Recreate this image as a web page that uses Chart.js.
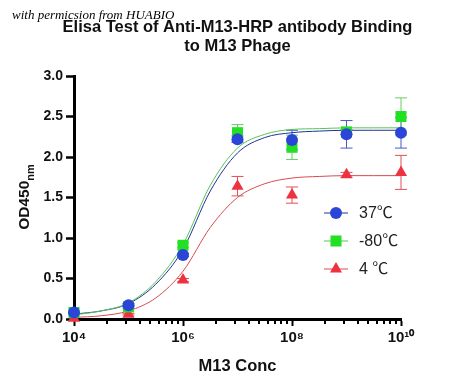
<!DOCTYPE html>
<html><head><meta charset="utf-8">
<script src="https://cdn.jsdelivr.net/npm/chart.js@4.4.1/dist/chart.umd.min.js"></script>
<style>html,body{margin:0;padding:0;background:#fff;}</style>
</head><body>
<canvas id="c" width="450" height="391" style="display:block;width:450px;height:391px"></canvas>
<script>
// ---- data ----
const concentrations = [1e4, 1e5, 1e6, 1e7, 1e8, 1e9, 1e10];
const od37   = [0.08, 0.17, 0.79, 2.22, 2.21, 2.28, 2.30];
const sd37   = [0.01, 0.02, 0.02, 0.04, 0.12, 0.17, 0.19];
const odM80  = [0.08, 0.15, 0.91, 2.30, 2.12, 2.31, 2.50];
const sdM80  = [0.01, 0.02, 0.03, 0.10, 0.15, 0.03, 0.23];
const od4    = [0.01, 0.06, 0.48, 1.64, 1.53, 1.78, 1.81];
const sd4    = [0.00, 0.01, 0.02, 0.12, 0.10, 0.03, 0.21];
// fitted curves, read at half-decade steps
const curveExponents = [4, 4.5, 5, 5.5, 6, 6.5, 7, 7.5, 8, 8.5, 9, 9.5, 10];
const fit37  = [0.06, 0.10, 0.19, 0.43, 0.86, 1.58, 2.05, 2.24, 2.30, 2.32, 2.33, 2.33, 2.33];
const fitM80 = [0.05, 0.10, 0.20, 0.46, 0.92, 1.65, 2.11, 2.28, 2.34, 2.35, 2.36, 2.36, 2.36];
const fit4   = [0.02, 0.04, 0.10, 0.26, 0.59, 1.13, 1.50, 1.67, 1.74, 1.76, 1.77, 1.77, 1.77];
const seriesNames = ['37℃', '-80℃', '4 ℃'];
const majorTicks = [1e4, 1e6, 1e8, 1e10];
const majorTickLabels = ['10⁴', '10⁶', '10⁸', '10¹⁰'];
const yTicks = [0, 0.5, 1.0, 1.5, 2.0, 2.5, 3.0];

const SANS = '"Liberation Sans", Arial, "Noto Sans CJK SC", sans-serif';
const colors = {
  blue:  {pt: '#2b46d6', line: '#24309a', err: '#4a58c8'},
  green: {pt: '#22e022', line: '#55c455', err: '#66cc66'},
  red:   {pt: '#ee3340', line: '#d84a50', err: '#e05058'}
};

const curveConc = curveExponents.map(e => Math.pow(10, e));
const toXY = (xs, ys) => xs.map((x, i) => ({x: x, y: ys[i]}));

// minor ticks (Prism style: j^2 steps within each 2-decade interval)
const allXTicks = [];
majorTicks.forEach((m, k) => {
  allXTicks.push(m);
  if (k < majorTicks.length - 1) for (let j = 2; j <= 9; j++) allXTicks.push(m * j * j);
});

function curveDs(label, ys, col, order) {
  return {label, data: toXY(curveConc, ys), borderColor: col.line, borderWidth: 1,
    pointRadius: 0, cubicInterpolationMode: 'monotone', fill: false, order, clip: false};
}
function pointDs(label, ys, sds, col, style, r, order) {
  return {label, data: toXY(concentrations, ys), sd: sds, errColor: col.err, showLine: false,
    pointStyle: style, pointRadius: r, pointHoverRadius: r, pointBackgroundColor: col.pt,
    pointBorderColor: col.pt, pointBorderWidth: 0, borderColor: col.line, order, clip: false};
}

const datasets = [
  pointDs(seriesNames[0], od37, sd37, colors.blue, 'circle', 6, 0),
  pointDs(seriesNames[1], odM80, sdM80, colors.green, 'rect', 7.8, 1),
  pointDs(seriesNames[2], od4, sd4, colors.red, 'triangle', 7, 2),
  curveDs('fit 37', fit37, colors.blue, 4),
  curveDs('fit -80', fitM80, colors.green, 3),
  curveDs('fit 4', fit4, colors.red, 5)
];

const errorBars = {
  id: 'errorBars',
  beforeDatasetsDraw(chart) {
    const ctx = chart.ctx, ys = chart.scales.y;
    chart.data.datasets.forEach((ds, i) => {
      if (!ds.sd) return;
      const meta = chart.getDatasetMeta(i);
      ctx.save();
      ctx.strokeStyle = ds.errColor; ctx.lineWidth = 1;
      meta.data.forEach((el, j) => {
        const v = ds.data[j].y, s = ds.sd[j];
        if (!s) return;
        const top = ys.getPixelForValue(v + s), bot = ys.getPixelForValue(v - s);
        ctx.beginPath();
        ctx.moveTo(el.x, top); ctx.lineTo(el.x, bot);
        ctx.moveTo(el.x - 6, top); ctx.lineTo(el.x + 6, top);
        ctx.moveTo(el.x - 6, bot); ctx.lineTo(el.x + 6, bot);
        ctx.stroke();
      });
      ctx.restore();
    });
  }
};

const decorations = {
  id: 'decorations',
  afterDraw(chart) {
    const ctx = chart.ctx, ca = chart.chartArea, xs = chart.scales.x;
    const cx = (ca.left + ca.right) / 2;
    ctx.save();
    // minor x ticks
    ctx.strokeStyle = '#000'; ctx.lineWidth = 2;
    allXTicks.forEach(v => {
      if (majorTicks.includes(v)) return;
      const px = Math.round(xs.getPixelForValue(v));
      ctx.beginPath(); ctx.moveTo(px, ca.bottom); ctx.lineTo(px, ca.bottom + 5); ctx.stroke();
    });
    // title
    ctx.fillStyle = '#111';
    ctx.textAlign = 'center'; ctx.textBaseline = 'alphabetic';
    ctx.font = 'bold 16.5px ' + SANS;
    ctx.fillText('Elisa Test of Anti-M13-HRP antibody Binding', cx, 32);
    ctx.fillText('to M13 Phage', cx, 51);
    // watermark
    ctx.textAlign = 'left';
    ctx.font = 'italic 13px "Liberation Serif", "Times New Roman", serif';
    ctx.fillStyle = '#000';
    ctx.fillText('with permicsion from HUABIO', 12, 19);
    // x title
    ctx.textAlign = 'center'; ctx.textBaseline = 'middle';
    ctx.font = 'bold 16.5px ' + SANS; ctx.fillStyle = '#111';
    ctx.fillText('M13 Conc', cx, 366);
    // y title
    ctx.save();
    ctx.translate(25, 197); ctx.rotate(-Math.PI / 2);
    ctx.font = 'bold 15.5px ' + SANS;
    const w1 = ctx.measureText('OD450').width;
    ctx.font = 'bold 11px ' + SANS;
    const w2 = ctx.measureText('nm').width;
    const start = -(w1 + w2) / 2;
    ctx.textAlign = 'left';
    ctx.font = 'bold 15.5px ' + SANS;
    ctx.fillText('OD450', start, 0);
    ctx.font = 'bold 11px ' + SANS;
    ctx.fillText('nm', start + w1, 6);
    ctx.restore();
    // legend
    const rows = [0, 1, 2];
    rows.forEach((i, r) => {
      const ds = chart.data.datasets[i];
      const lx = 336, ly = 213 + r * 28;
      ctx.strokeStyle = ds.borderColor; ctx.lineWidth = 1;
      ctx.beginPath(); ctx.moveTo(lx - 12, ly); ctx.lineTo(lx + 12, ly); ctx.stroke();
      ctx.fillStyle = ds.pointBackgroundColor; ctx.strokeStyle = ds.pointBorderColor;
      Chart.helpers.drawPoint(ctx, {pointStyle: ds.pointStyle, radius: ds.pointRadius, rotation: 0, borderWidth: 0}, lx, ly);
      ctx.fillStyle = '#222';
      ctx.font = '16px ' + SANS; ctx.textAlign = 'left'; ctx.textBaseline = 'middle';
      ctx.fillText(ds.label, 359, ly + 1);
    });
    ctx.restore();
  }
};

new Chart(document.getElementById('c'), {
  type: 'line',
  data: {datasets},
  options: {
    responsive: false, animation: false, devicePixelRatio: 1,
    layout: {padding: {top: 76, right: 49, left: 0, bottom: 0}},
    plugins: {legend: {display: false}, title: {display: false}, tooltip: {enabled: false}},
    scales: {
      x: {
        type: 'logarithmic', min: 1e4, max: 1e10,
        afterBuildTicks: s => { s.ticks = allXTicks.map(v => ({value: v, major: majorTicks.includes(v)})); },
        afterFit: s => { s.height = 72; },
        border: {display: true, color: '#000', width: 3},
        grid: {drawOnChartArea: false, drawTicks: true, tickLength: 7, tickWidth: 2,
               tickColor: c => (c.tick && majorTicks.includes(c.tick.value)) ? '#000' : 'rgba(0,0,0,0)'},
        ticks: {autoSkip: false, maxRotation: 0, minRotation: 0, padding: 3, color: '#111',
                font: {family: SANS, size: 15, weight: 'bold'},
                callback: (v) => { const k = majorTicks.indexOf(v); return k >= 0 ? majorTickLabels[k] : ''; }}
      },
      y: {
        type: 'linear', min: 0, max: 3,
        afterBuildTicks: s => { s.ticks = yTicks.map(v => ({value: v})); },
        afterFit: s => { s.width = 74; },
        border: {display: true, color: '#000', width: 3},
        grid: {drawOnChartArea: false, drawTicks: true, tickLength: 8, tickWidth: 2.5, tickColor: '#000'},
        ticks: {padding: 3, color: '#111', font: {family: SANS, size: 14, weight: 'bold'},
                callback: v => Number(v).toFixed(1)}
      }
    }
  },
  plugins: [errorBars, decorations]
});
</script>
</body></html>
